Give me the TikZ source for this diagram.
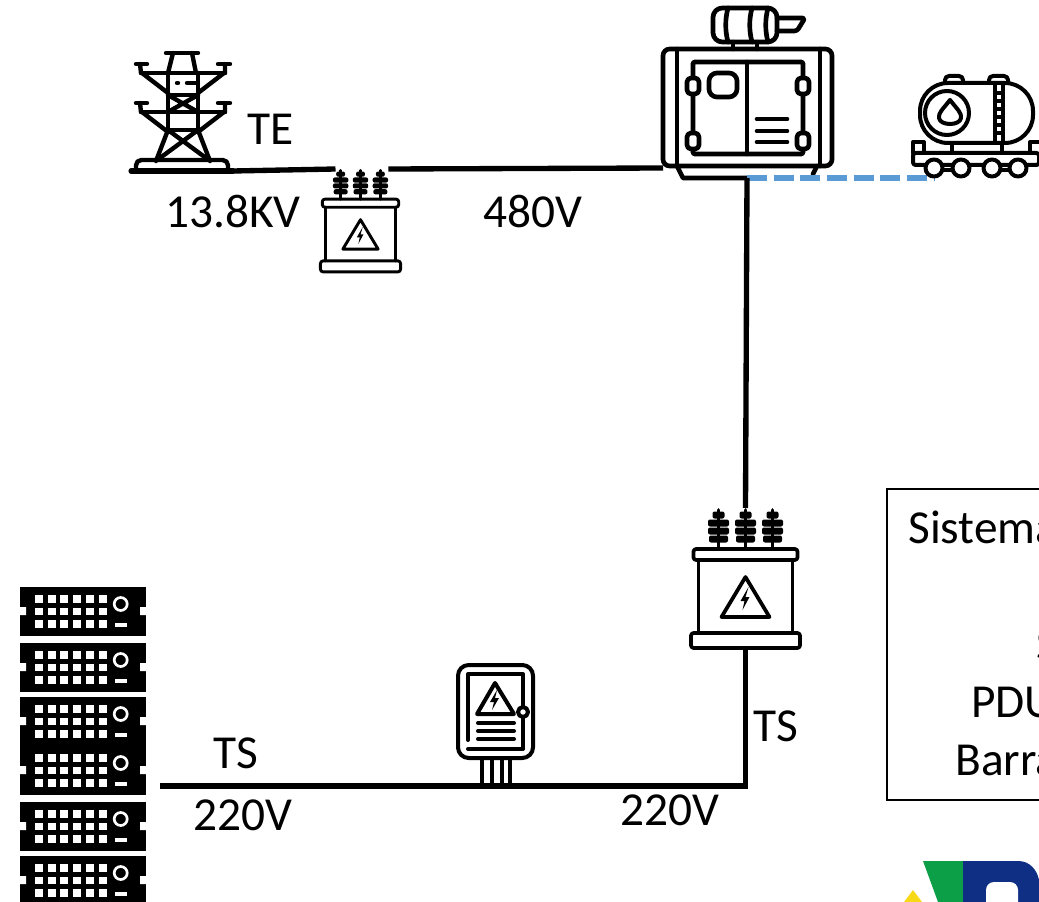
\documentclass[tikz,border=0pt]{standalone}
\usepackage{fontspec}
\setmainfont{Carlito}
\usetikzlibrary{calc,positioning}
\definecolor{dashblue}{HTML}{5B9BD5}
\definecolor{logogreen}{HTML}{0C9F48}
\definecolor{logoblue}{HTML}{0F2F85}
\definecolor{logoyellow}{HTML}{F7D917}

\tikzset{
    icon/.style={line width=3pt, line cap=round, line join=round},
    % transformer, origin on top of the middle bushing
    pics/trafo/.style={code={
        \coordinate (-west) at (-34,0);
        \coordinate (-east) at (38,0);
        \coordinate (-top) at (0,0);
        \coordinate (-bottom) at (0,140);
        \foreach \x in {-27,0,27} {
            \draw (\x,2) -- (\x,41);
            \foreach \y/\w in {7/6,15/10.5,23/10.5,31/9.5}
                \fill[rounded corners=1.5pt] (\x-\w,\y-3.5) rectangle (\x+\w,\y+3.5);
        }
        \draw[rounded corners=2pt] (-52,41) rectangle (52,52);
        \draw (-47,52) -- (-47,125) (47,52) -- (47,125);
        \draw[rounded corners=2pt] (-54.5,125) rectangle (54.5,140);
        \draw (0,69) -- (24,109) -- (-24,109) -- cycle;
        \fill (3,79) -- (-5,93) -- (-1,93) -- (-3,102) -- (4,89) -- (0,89) -- cycle;
    }},
    % diesel generator, origin at the upper left corner of the housing
    pics/genset/.style={code={
        \coordinate (-west) at (0,119);
        \coordinate (-south) at (84,129);
        \draw[rounded corners=5pt] (0,0) rectangle (169,117);
        \draw (14,0) -- (14,117) (157,0) -- (157,117);
        \draw (14,117) -- (20,129) -- (84,129);
        \draw (154,117) -- (150,125);
        \draw[rounded corners=1pt] (30,13) rectangle (140,105);
        \draw (84,13) -- (84,105);
        \foreach \x in {30,140} \foreach \y in {37,92}
            \draw[fill=white, rounded corners=3pt] (\x-6,\y-8) rectangle (\x+6,\y+8);
        \draw[rounded corners=6pt] (46,24) rectangle (74,48);
        \foreach \y in {70,82,93} \draw (94,\y) -- (124,\y);
        % engine on top
        \draw (70,-7) -- (70,0) (94,-7) -- (94,0) (70,-7) -- (94,-7);
        \draw[rounded corners=7pt] (50,-41) rectangle (114,-7);
        \draw (65,-41) .. controls (62,-30) and (62,-18) .. (65,-7);
        \draw (89,-41) .. controls (86,-30) and (86,-18) .. (89,-7);
        \draw (105,-41) .. controls (102,-30) and (102,-18) .. (105,-7);
        \draw[rounded corners=2pt] (114,-31) -- (142,-31) -- (134,-18) -- (114,-18);
    }},
    % fuel wagon, origin at the upper left corner of the platform
    pics/wagon/.style={code={
        \draw[rounded corners=21pt] (7,-70) rectangle (120,-10);
        \draw[rounded corners=3pt] (32,-70) -- (32,-77) -- (50,-77) -- (50,-70);
        \draw[rounded corners=3pt] (76,-70) -- (76,-77) -- (95,-77) -- (95,-70);
        \draw (34,-40) circle (22);
        \draw (37,-53) .. controls (44,-44) and (49,-40) .. (48,-35)
            .. controls (47,-27) and (27,-27) .. (26,-35)
            .. controls (25,-40) and (30,-44) .. (37,-53) -- cycle;
        \draw (82,-70) -- (82,-10) (90,-70) -- (90,-10);
        \foreach \y in {-60,-52,-44,-36,-28,-20} \draw (82,\y) -- (90,\y);
        \draw (39,-9) -- (39,0) (89,-9) -- (89,0);
        \draw[rounded corners=2pt] (0,0) rectangle (126,12);
        \draw (0,0) -- (0,-11) -- (11,-11) -- (11,0) (117,0) -- (117,-11) -- (126,-11);
        \draw (21,17) -- (48,17) (79,17) -- (105,17);
        \foreach \x in {21,48,79,105} \draw[fill=white] (\x,15) circle (8.5);
    }},
    % single server in the rack
    pics/rackunit/.style={code={
        \fill (0,0) rectangle (126,49);
        \fill[white] (0,20) rectangle (6,28) (120,20) rectangle (126,28);
        \foreach \x in {15,27.7,40.4,53.1,65.8,78.5} \foreach \y in {8,20.5,33}
            \fill[white] (\x,\y) rectangle ++(8,7.5);
        \draw[white, line width=2pt] (100.7,17) circle (6.5);
        \fill[white] (95,36) rectangle (107,40);
    }},
    % distribution board, origin at its upper left corner
    pics/board/.style={code={
        \coordinate (-south) at (38,121);
        \draw[rounded corners=8pt] (0,0) rectangle (75,93);
        \draw (10,75) -- (10,9) -- (65,9) -- (65,42) (65,52) -- (65,84) -- (10,84);
        \draw (65,47) circle (5);
        \draw (37,18) -- (56,49) -- (19,49) -- cycle;
        \fill (39,25) -- (32,37) -- (36,37) -- (34,45) -- (41,33) -- (37,33) -- cycle;
        \foreach \y in {58,66,74} \draw (20,\y) -- (56,\y);
        \foreach \x in {24,34,44,52} \draw (\x,93) -- (\x,118);
    }},
    % transmission tower, origin on the base line below its middle
    pics/pylon/.style={code={
        \coordinate (-east) at (51,0);
        \draw (-16,-118) -- (16,-118);
        \draw (-9,-118) -- (-14,-98) (10,-118) -- (14,-98);
        \foreach \y in {-98,-59} {
            \draw (-41,\y) -- (43,\y);
            \draw (-41,\y) -- (-42,\y-9) (43,\y) -- (43,\y-9);
            \draw (-46,\y-9) -- (-35,\y-9) (36,\y-9) -- (48,\y-9);
            \draw (-40,\y) -- (-14,\y+20) (42,\y) -- (16,\y+20);
        }
        \draw (-14,-98) -- (-14,-41) (16,-98) -- (16,-41);
        \draw (-14,-76) -- (16,-76) (-14,-41) -- (16,-41);
        \draw (-14,-76) -- (16,-59) (16,-76) -- (-14,-59);
        \draw (-5,-88) -- (-4,-88) (5,-88) -- (15,-88);
        \draw (-14,-41) -- (-26,-10) (16,-41) -- (28,-10);
        \draw (-14,-41) -- (24,-13) (16,-41) -- (-22,-13);
        \draw[rounded corners=4pt] (-46,0) -- (-46,-11) -- (46,-11) -- (46,0);
        \draw[line width=3.8pt] (-51,0) -- (51,0);
    }}
}

\begin{document}
\begin{tikzpicture}[
x=0.75pt,
y=-0.75pt,
line/.style={line width=4pt, line cap=butt},
lbl/.style={anchor=base west, inner sep=0pt, font=\fontsize{35.5}{43}\selectfont},
every node/.style={text=black}
]

\useasboundingbox (0,0) rectangle (1039,902);
\clip (0,0) rectangle (1039,902);

\pic[icon, line width=3.3pt] (tower) at (182,171) {pylon};
\pic[icon, scale=0.735, line width=2.2pt] (trafosmall) at (360.5,169) {trafo};
\pic[icon, line width=3.5pt] (gen) at (663,49) {genset};
\pic[icon, line width=2.8pt] (trafobig) at (745.5,508) {trafo};
\pic[icon] (panel) at (458,665) {board};

% dashed oil line goes under the wagon
\coordinate (oilend) at (934,178);
\draw[line width=4pt, dashblue, dash pattern=on 15pt off 5pt] (gen-south) -- (oilend);
\pic[icon] (tank) at (913,153) {wagon};

% rack
\foreach \n/\y in {a/587,b/643,c/697,d/746,e/802,f/856} {
    \pic (rack\n) at (20,\y) {rackunit};
}
\coordinate (rackend) at (160,786);

% tower -- small transformer -- generator
\draw[line] (tower-east) -- (trafosmall-west);
\draw[line] (trafosmall-east) -- (gen-west);

% generator -- big transformer
\draw[line] (gen-south) -- (trafobig-top);

% big transformer -- board -- rack
\draw[line] (trafobig-bottom) |- (panel-south);
\draw[line] (panel-south) -- (rackend);

\node[lbl] (te) at (247,145) {TE};
\node[lbl] (kv) at (165,228) {13.8KV};
\node[lbl] (v480) at (483,228) {480V};
\node[lbl] (tsright) at (753,741) {TS};
\node[lbl] (tsleft) at (213,768) {TS};
\node[lbl] (v220left) at (193,830) {220V};
\node[lbl] (v220right) at (620,825) {220V};

% legend box, the picture stops at its right side
\draw[line width=1pt] (1045,489) -- (887,489) -- (887,800) -- (1045,800);
\node[lbl] (legend1) at (908,543) {Sistema};
\node[lbl] (legend2) at (1036,660) {S};
\node[lbl] (legend3) at (971,717) {PDU};
\node[lbl] (legend4) at (955,775) {Barra};

% logo
\fill[logoyellow] (913,890) -- (922,902) -- (904,902) -- cycle;
\fill[logogreen] (923,861) -- (963,861) -- (963,902) -- (938,902) -- cycle;
\fill[logoblue] (963,861) -- (1018,861) .. controls (1030,861) and (1037,870) .. (1039,880) -- (1039,902) -- (963,902) -- cycle;
\fill[white, rounded corners=6pt] (986,882) -- (1018,882) -- (1018,910) -- (986,910) -- cycle;

\end{tikzpicture}
\end{document}
